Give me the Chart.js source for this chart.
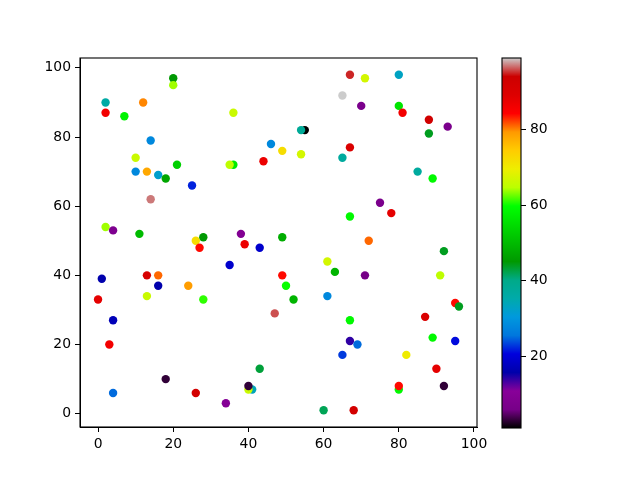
<!DOCTYPE html>
<html><head><meta charset="utf-8">
<script src="https://cdn.jsdelivr.net/npm/chart.js@4/dist/chart.umd.min.js"></script>
<style>html,body{margin:0;padding:0;background:#fff;}#wrap{position:relative;width:640px;height:480px;}canvas{position:absolute;left:0;top:0;}</style>
</head><body><div id="wrap"><canvas id="main" width="640" height="480"></canvas><canvas id="cbar" width="640" height="480"></canvas></div>
<script>
const xs = [20,20,2,12,2,7,36,14,46,49,10,44,21,36,35,10,13,16,18,25,14,2,4,11,26,28,38,39,43,49,
  67,71,80,65,70,80,81,88,93,88,55,54,67,54,65,85,89,75,78,67,72,
  27,35,1,13,16,16,24,49,50,0,13,28,4,47,3,43,18,41,40,40,4,26,34,
  92,61,63,71,91,52,61,95,96,67,87,89,95,67,69,65,82,90,80,80,92,60,68];
const ys = [97,95,90,90,87,86,87,79,78,76,74,73,72,72,72,70,70,69,68,66,62,54,53,52,50,51,52,49,48,51,
  98,97,98,92,89,89,87,85,83,81,82,82,77,75,74,70,68,61,58,57,50,
  48,43,39,40,40,37,37,40,37,33,34,33,27,29,20,13,10,7,7,8,6,6,3,
  47,44,41,40,40,33,34,32,31,27,28,22,21,21,20,17,17,13,7,8,8,1,1];
const cs = [45,64,36,80,86,58,66,28,28,72,66,87,53,57,65,28,78,32,47,22,97,64,8,50,72,45,9,87,19,48,
  95,67,33,99,7,56,86,93,7,44,1,38,90,67,37,37,59,7,88,59,81,
  84,19,16,91,81,16,79,84,60,88,66,61,17,96,86,43,3,34,66,3,25,92,10,
  44,67,49,6,65,49,28,84,44,59,90,59,21,14,25,23,70,88,59,84,3,42,92];
const xTicks = [0,20,40,60,80,100];
const yTicks = [0,20,40,60,80,100];
const cbTicks = [20,40,60,80];

const vmin = Math.min(...cs), vmax = Math.max(...cs);
// nipy_spectral colormap stops (t, r, g, b)
const R=[0,.4667,.5333,0,0,0,0,0,0,0,0,0,0,.7333,.9333,1,1,1,.8667,.8,.8];
const G=[0,0,0,0,0,.4667,.6,.6667,.6667,.6,.7333,.8667,1,1,.9333,.8,.6,0,0,0,.8];
const B=[0,.5333,.6,.6667,.8667,.8667,.8667,.6667,.5333,0,0,0,0,0,0,0,0,0,0,0,.8];
function cmapT(t){
  t=Math.max(0,Math.min(1,t)); const f=t*20; let i=Math.floor(f); if(i>=20)i=19; const u=f-i;
  const c=(A)=>Math.round(255*(A[i]+(A[i+1]-A[i])*u));
  return `rgb(${c(R)},${c(G)},${c(B)})`;
}
const cmap=v=>cmapT((v-vmin)/(vmax-vmin));

Chart.defaults.font.family='DejaVu Sans';
Chart.defaults.font.size=13.9;
Chart.defaults.color='#000';

const frame={id:'frame',afterDraw(chart){const a=chart.chartArea,ctx=chart.ctx;ctx.save();ctx.strokeStyle='#000';ctx.lineWidth=1.1;ctx.strokeRect(a.left,a.top,a.right-a.left,a.bottom-a.top);ctx.restore();}};

new Chart(document.getElementById('main'),{
  type:'scatter',
  data:{datasets:[{data:xs.map((x,i)=>({x:x,y:ys[i]})),
    pointBackgroundColor:cs.map(cmap),pointBorderWidth:0,pointRadius:4.2,pointHoverRadius:4.2}]},
  options:{responsive:false,animation:false,devicePixelRatio:1,
    layout:{padding:{left:0,top:58,right:163,bottom:0}},
    plugins:{legend:{display:false},tooltip:{enabled:false}},
    scales:{
      x:{type:'linear',min:-4.8,max:100.8,
        afterBuildTicks:s=>{s.ticks=xTicks.map(v=>({value:v}));},
        afterFit:s=>{s.height=53;},
        grid:{display:true,drawOnChartArea:false,tickLength:5,color:'#000',tickWidth:1},
        border:{display:true,color:'#000'},
        ticks:{padding:4,maxRotation:0,color:'#000'}},
      y:{type:'linear',min:-3.85,max:102.85,
        afterBuildTicks:s=>{s.ticks=yTicks.map(v=>({value:v}));},
        afterFit:s=>{s.width=80;},
        grid:{display:true,drawOnChartArea:false,tickLength:5,color:'#000',tickWidth:1},
        border:{display:true,color:'#000'},
        ticks:{padding:4,color:'#000'}}
    }},
  plugins:[frame]
});

const cbPlugin={id:'cbgrad',beforeDatasetsDraw(chart){
  const y=chart.scales.y,a=chart.chartArea,ctx=chart.ctx;
  const p0=y.getPixelForValue(vmin),p1=y.getPixelForValue(vmax);
  const g=ctx.createLinearGradient(0,p0,0,p1);
  for(let i=0;i<=40;i++){g.addColorStop(i/40,cmapT(i/40));}
  ctx.save();ctx.fillStyle=g;ctx.fillRect(a.left,a.top,a.right-a.left,a.bottom-a.top);ctx.restore();
}};
new Chart(document.getElementById('cbar'),{
  type:'scatter',
  data:{datasets:[{data:[]}]},
  options:{responsive:false,animation:false,devicePixelRatio:1,
    layout:{padding:{left:502,top:58,right:0,bottom:52}},
    plugins:{legend:{display:false},tooltip:{enabled:false}},
    scales:{
      x:{type:'linear',display:false,min:0,max:1},
      y:{type:'linear',position:'right',min:vmin,max:vmax,
        afterBuildTicks:s=>{s.ticks=cbTicks.map(v=>({value:v}));},
        afterFit:s=>{s.width=119;},
        grid:{display:true,drawOnChartArea:false,tickLength:5,color:'#000'},
        border:{display:false},
        ticks:{padding:4,color:'#000'}}
    }},
  plugins:[cbPlugin,frame]
});
</script></body></html>
